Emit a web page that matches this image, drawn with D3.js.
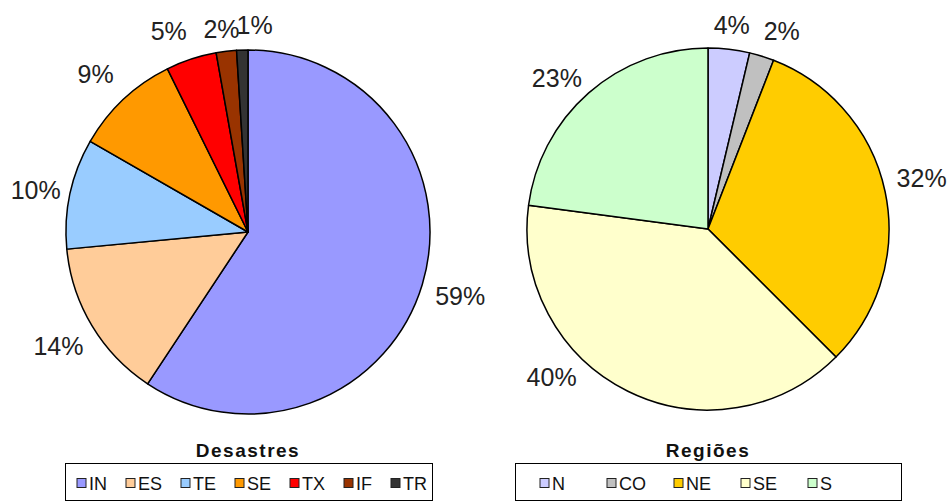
<!DOCTYPE html>
<html>
<head>
<meta charset="utf-8">
<script src="https://cdn.jsdelivr.net/npm/d3@7"></script>
<style>
  html, body { margin: 0; padding: 0; background: #fff; }
  svg { display: block; font-family: "Liberation Sans", Arial, sans-serif; }
</style>
</head>
<body>
<svg id="chart" width="949" height="504"></svg>
<script>
// ---------- data ----------
const disasterCategories = ["IN", "ES", "TE", "SE", "TX", "IF", "TR"];
const disasterValues     = [59.3, 14.2, 9.8, 9.4, 4.5, 1.8, 1.0];
const disasterLabels     = ["59%", "14%", "10%", "9%", "5%", "2%", "1%"];
const disasterColors     = ["#9999FF", "#FFCC99", "#99CCFF", "#FF9900", "#FF0000", "#993300", "#333333"];
const disasterTitle      = "Desastres";

const regionCategories = ["N", "CO", "NE", "SE", "S"];
const regionValues     = [3.7, 2.2, 31.6, 39.6, 22.9];
const regionLabels     = ["4%", "2%", "32%", "40%", "23%"];
const regionColors     = ["#CCCCFF", "#C0C0C0", "#FFCC00", "#FFFFCC", "#CCFFCC"];
const regionTitle      = "Regiões";

// ---------- layout ----------
const svg = d3.select("#chart");

const charts = [
  {
    cats: disasterCategories, values: disasterValues, labels: disasterLabels,
    colors: disasterColors, title: disasterTitle,
    cx: 248, cy: 232, r: 182,
    legend: { x0: 65, x1: 432, mode: "flow" },
    nudges: { "IF": [-2, 2], "TR": [13, -3], "TX": [-14, -2], "SE": [-6, -2], "TE": [4, 5] }
  },
  {
    cats: regionCategories, values: regionValues, labels: regionLabels,
    colors: regionColors, title: regionTitle,
    cx: 708, cy: 229, r: 181,
    legend: { x0: 515, x1: 901, mode: "slots", first: 540, step: 67 },
    nudges: { "CO": [12, 1], "NE": [-2, -6], "SE": [-62, -43], "S": [-8, 12] }
  }
];

const labelFont = 25;
const gapOut = 13;

charts.forEach(c => {
  const data = c.cats.map((k, i) => ({ cat: k, value: c.values[i], label: c.labels[i], color: c.colors[i] }));
  const pie = d3.pie().sort(null).value(d => d.value);
  const arcs = pie(data);
  const arc = d3.arc().innerRadius(0).outerRadius(c.r);

  const g = svg.append("g").attr("transform", `translate(${c.cx},${c.cy})`);
  g.selectAll("path.slice")
    .data(arcs)
    .join("path")
    .attr("class", "slice")
    .attr("d", arc)
    .attr("fill", d => d.data.color)
    .attr("stroke", "#000")
    .attr("stroke-width", 1.5)
    .attr("stroke-linejoin", "round");

  // percentage labels
  const lbl = g.selectAll("text.pct")
    .data(arcs)
    .join("text")
    .attr("class", "pct")
    .attr("font-size", labelFont)
    .attr("fill", "#222")
    .attr("text-anchor", "middle")
    .attr("dominant-baseline", "central")
    .text(d => d.data.label);

  lbl.each(function(d) {
    const w = this.getComputedTextLength();
    const hw = w / 2, hh = labelFont * 0.36;
    const a = (d.startAngle + d.endAngle) / 2;
    const s = Math.sin(a), co = Math.cos(a);
    const rr = c.r + gapOut + hw * Math.abs(s) + hh * Math.abs(co);
    const n = c.nudges[d.data.cat] || [0, 0];
    d3.select(this)
      .attr("x", rr * s + n[0])
      .attr("y", -rr * co + n[1]);
  });

  // title
  svg.append("text")
    .attr("x", c.cx)
    .attr("y", 457)
    .attr("text-anchor", "middle")
    .attr("font-size", 19)
    .attr("font-weight", "bold")
    .attr("letter-spacing", 1.5)
    .attr("fill", "#111")
    .text(c.title);

  // legend box
  const L = c.legend;
  svg.append("rect")
    .attr("x", L.x0 + 0.5)
    .attr("y", 463.5)
    .attr("width", L.x1 - L.x0)
    .attr("height", 37)
    .attr("fill", "#fff")
    .attr("stroke", "#000")
    .attr("stroke-width", 1);

  const items = svg.append("g");
  const texts = [];
  data.forEach((d, i) => {
    const it = items.append("g");
    it.append("rect")
      .attr("width", 9).attr("height", 9)
      .attr("y", 478.5)
      .attr("fill", d.color)
      .attr("stroke", "#222")
      .attr("stroke-width", 1);
    const t = it.append("text")
      .attr("y", 490)
      .attr("font-size", 18)
      .attr("fill", "#111")
      .text(d.cat);
    texts.push({ it, t, w: t.node().getComputedTextLength() });
  });

  if (L.mode === "slots") {
    texts.forEach((o, i) => {
      o.it.attr("transform", `translate(${L.first + i * L.step},0)`);
      o.t.attr("x", 12);
    });
  } else {
    const markW = 9, markGap = 3;
    const contentW = d3.sum(texts, o => markW + markGap + o.w);
    const pad = 12, padR = 5;
    const gap = (L.x1 - L.x0 - pad - padR - contentW) / (texts.length - 1);
    let x = L.x0 + pad;
    texts.forEach(o => {
      o.it.attr("transform", `translate(${x},0)`);
      o.t.attr("x", markW + markGap);
      x += markW + markGap + o.w + gap;
    });
  }
});
</script>
</body>
</html>
